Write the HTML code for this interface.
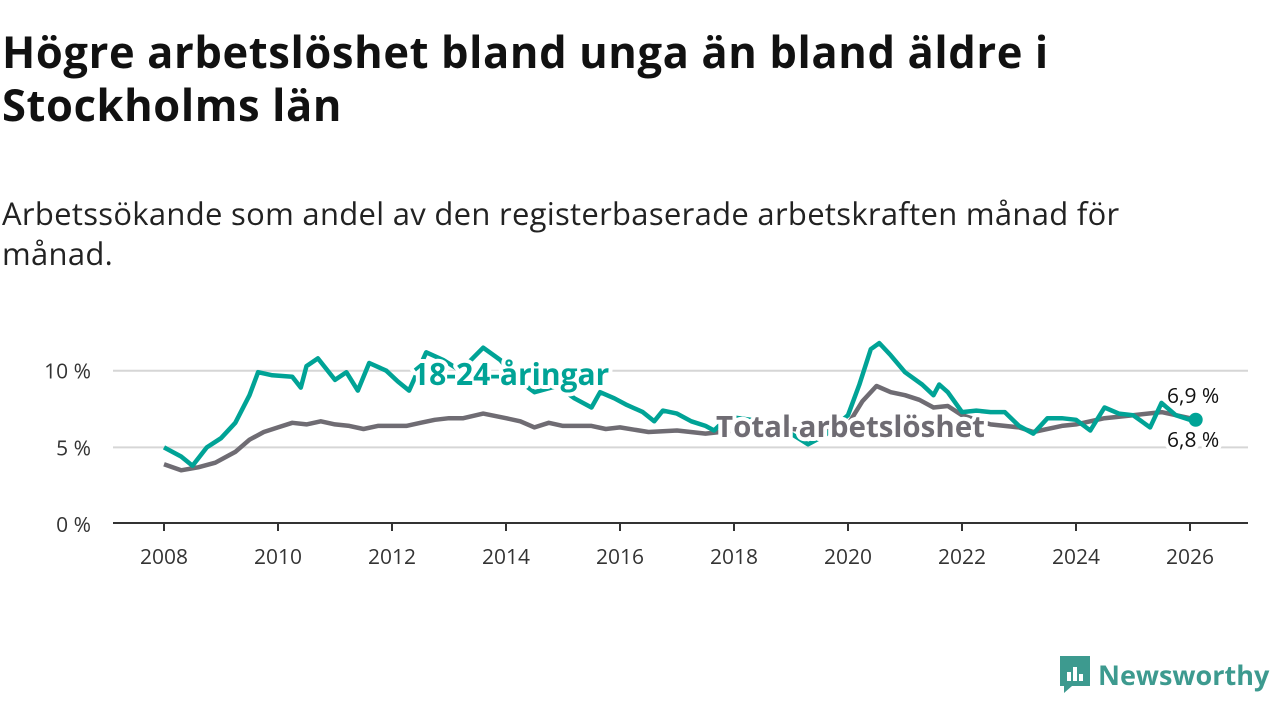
<!DOCTYPE html>
<html><head><meta charset="utf-8">
<style>
body{margin:0;width:1280px;height:720px;background:#fff;font-family:"Open Sans","Liberation Sans","DejaVu Sans",sans-serif;overflow:hidden;position:relative;color:#111}
h1{position:absolute;left:2px;top:25px;margin:0;font-size:43.5px;line-height:53px;font-weight:700;width:1100px;letter-spacing:0.6px}
.sub{position:absolute;left:2px;top:194px;margin:0;font-size:31px;line-height:40px;width:1180px;color:#222;letter-spacing:0.3px}
.logo{position:absolute;left:1058px;top:654px;display:flex;align-items:center;font-size:27px;color:#3d9a8f;font-weight:700;white-space:nowrap}
</style></head><body>
<h1>Högre arbetslöshet bland unga än bland äldre i Stockholms län</h1>
<p class="sub">Arbetssökande som andel av den registerbaserade arbetskraften månad för månad.</p>
<svg id="chart" width="1280" height="720" style="position:absolute;left:0;top:0"></svg>
<div class="logo">
<svg width="34" height="40" viewBox="0 0 34 40"><path d="M2 2h30v30H14l-8 7v-7H2z" fill="#3d9a8f"/><rect x="9" y="18" width="4" height="9" fill="#fff"/><rect x="15" y="13" width="4" height="14" fill="#fff"/><rect x="21" y="20" width="4" height="7" fill="#fff"/></svg>
<span style="margin-left:6px">Newsworthy</span></div>
<script>
const youthX=[2008.0,2008.3,2008.5,2008.75,2009.0,2009.25,2009.5,2009.65,2009.9,2010.25,2010.4,2010.5,2010.7,2011.0,2011.2,2011.4,2011.6,2011.9,2012.1,2012.3,2012.6,2012.9,2013.2,2013.6,2013.9,2014.2,2014.5,2014.9,2015.2,2015.5,2015.65,2015.9,2016.1,2016.4,2016.6,2016.75,2017.0,2017.25,2017.5,2017.65,2017.9,2018.3,2018.7,2019.0,2019.3,2019.6,2020.0,2020.2,2020.4,2020.55,2020.75,2021.0,2021.3,2021.5,2021.6,2021.75,2022.0,2022.25,2022.5,2022.75,2023.0,2023.25,2023.5,2023.75,2024.0,2024.25,2024.5,2024.75,2025.0,2025.3,2025.5,2025.75,2026.0,2026.1];
const youthV=[5.0,4.4,3.8,5.0,5.6,6.6,8.4,9.9,9.7,9.6,8.9,10.3,10.8,9.4,9.9,8.7,10.5,10.0,9.3,8.7,11.2,10.7,10.0,11.5,10.7,9.4,8.6,9.0,8.2,7.6,8.6,8.2,7.8,7.3,6.7,7.4,7.2,6.7,6.4,6.1,7.0,6.8,6.2,5.9,5.2,5.8,7.1,9.1,11.4,11.8,11.0,9.9,9.1,8.4,9.1,8.6,7.3,7.4,7.3,7.3,6.4,5.9,6.9,6.9,6.8,6.1,7.6,7.2,7.1,6.3,7.9,7.1,6.8,6.8];
const totalX=[2008.0,2008.3,2008.6,2008.9,2009.25,2009.5,2009.75,2010.0,2010.25,2010.5,2010.75,2011.0,2011.25,2011.5,2011.75,2012.0,2012.25,2012.5,2012.75,2013.0,2013.25,2013.6,2014.0,2014.25,2014.5,2014.75,2015.0,2015.5,2015.75,2016.0,2016.5,2017.0,2017.5,2018.0,2018.5,2019.0,2019.5,2020.0,2020.25,2020.5,2020.75,2021.0,2021.25,2021.5,2021.75,2022.0,2022.5,2023.0,2023.25,2023.75,2024.0,2024.5,2025.0,2025.5,2026.0,2026.1];
const totalV=[3.9,3.5,3.7,4.0,4.7,5.5,6.0,6.3,6.6,6.5,6.7,6.5,6.4,6.2,6.4,6.4,6.4,6.6,6.8,6.9,6.9,7.2,6.9,6.7,6.3,6.6,6.4,6.4,6.2,6.3,6.0,6.1,5.9,6.1,6.2,6.2,6.1,6.5,8.0,9.0,8.6,8.4,8.1,7.6,7.7,7.1,6.5,6.3,6.0,6.4,6.5,6.9,7.1,7.3,6.9,6.9];
const yTicks=[0,5,10];
const xTicks=[2008,2010,2012,2014,2016,2018,2020,2022,2024,2026];
const NS="http://www.w3.org/2000/svg";
const svg=document.getElementById('chart');
const X=y=>164+(y-2008)*(1190-164)/18;
const Y=v=>524-v*15.33;
function mk(t,a){const e=document.createElementNS(NS,t);for(const k in a)e.setAttribute(k,a[k]);svg.appendChild(e);return e;}
yTicks.forEach(t=>{
 if(t>0){const g=mk('line',{x1:113,x2:1248,y1:Y(t),y2:Y(t),stroke:'#d6d6d6','stroke-width':2});
 
 }
 const l=mk('text',{x:91,y:Y(t)+8,'text-anchor':'end','font-size':21,fill:'#333'});l.textContent=t+' %';
 
 
});
const ax=mk('line',{x1:113,x2:1248,y1:523,y2:523,stroke:'#333','stroke-width':2});


xTicks.forEach(t=>{
 mk('line',{x1:X(t),x2:X(t),y1:523,y2:531,stroke:'#333','stroke-width':2});
 const l=mk('text',{x:X(t),y:564,'text-anchor':'middle','font-size':21,fill:'#333'});l.textContent=t;
 
 
});
function line(xs,vs,col,name){
 const d=xs.map((x,i)=>(i?'L':'M')+X(x).toFixed(1)+' '+Y(vs[i]).toFixed(1)).join('');
 const p=mk('path',{d:d,fill:'none',stroke:col,'stroke-width':4.5,'stroke-linejoin':'round'});
 
 
}
line(totalX,totalV,'#6f6c73','total-line');
line(youthX,youthV,'#00a396','youth-line');
const dot=mk('circle',{cx:X(youthX[youthX.length-1]),cy:Y(youthV[youthV.length-1]),r:7,fill:'#00a396'});


function lab(x,y,txt,col,size,bold,name,anchor){
 const t=mk('text',{x:x,y:y,fill:col,'font-size':size,'font-weight':bold?700:400,stroke:'#fff','stroke-width':8,'paint-order':'stroke','stroke-linejoin':'round','text-anchor':anchor||'start'});
 t.textContent=txt;
 
 
}
lab(412,385,'18-24-åringar','#00a396',30,true,'youth-series-label');
lab(716,437,'Total arbetslöshet','#6f6c73',29.5,true,'total-series-label');
lab(1167,403,'6,9 %','#111',21,false,'total-end-value');
lab(1167,447,'6,8 %','#111',21,false,'youth-end-value');
</script>
</body></html>
